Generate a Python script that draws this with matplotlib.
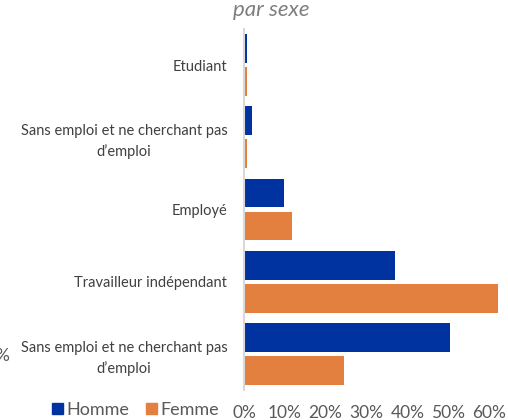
import numpy as np
import matplotlib.pyplot as plt
from matplotlib.patches import Patch

plt.rcParams['font.family'] = ['Lato', 'DejaVu Sans']

# categories listed top to bottom as shown
categories = ["Etudiant",
              "Sans emploi et ne cherchant pas\nd\u2019emploi",
              "Employé",
              "Travailleur indépendant",
              "Sans emploi et ne cherchant pas\nd\u2019emploi"]
homme = [0.008, 0.02, 0.098, 0.37, 0.505]
femme = [0.008, 0.008, 0.117, 0.622, 0.245]
ticks = [0, 0.1, 0.2, 0.3, 0.4, 0.5, 0.6]

blue = '#0033A0'
orange = '#E3803F'

fig = plt.figure(figsize=(5.08, 4.2), dpi=100)
ax = fig.add_axes([244 / 508, 30 / 420, 258 / 508, 361 / 420])

n = len(categories)
y = np.arange(n)[::-1]
h = 0.40
off = 0.228
ax.barh(y + off, homme, height=h, color=blue)
ax.barh(y - off, femme, height=h, color=orange)

ax.set_ylim(-0.5, n - 0.5)
ax.set_xlim(0, 0.632)
ax.set_yticks(y)
ax.set_yticklabels(categories, fontsize=10.5, color='#404040',
                   multialignment='center', linespacing=1.5)
ax.set_xticks(ticks)
ax.set_xticklabels([f"{int(t * 100)}%" for t in ticks], fontsize=12.5, color='#595959')
ax.tick_params(axis='y', length=0, pad=12)
ax.tick_params(axis='x', length=0, pad=11)
for s in ['top', 'right', 'bottom']:
    ax.spines[s].set_visible(False)
ax.spines['left'].set_color('#d9d9d9')
ax.spines['left'].set_linewidth(1.5)

fig.text(271 / 508, 1 - 10 / 420, "par sexe", fontsize=16, style='italic',
         color='#7f7f7f', ha='center', va='center')
fig.text(9 / 508, 1 - 356 / 420, "%", fontsize=12.5, color='#595959',
         ha='right', va='center')

handles = [Patch(color=blue, label='Homme'), Patch(color=orange, label='Femme')]
fig.legend(handles=handles, loc='center left', bbox_to_anchor=(36 / 508, 1 - 410 / 420),
           ncol=2, frameon=False, fontsize=13, handlelength=0.6, handleheight=0.6,
           handletextpad=0.2, columnspacing=0.9, labelcolor='#595959')

fig.savefig('out.png', dpi=100)
